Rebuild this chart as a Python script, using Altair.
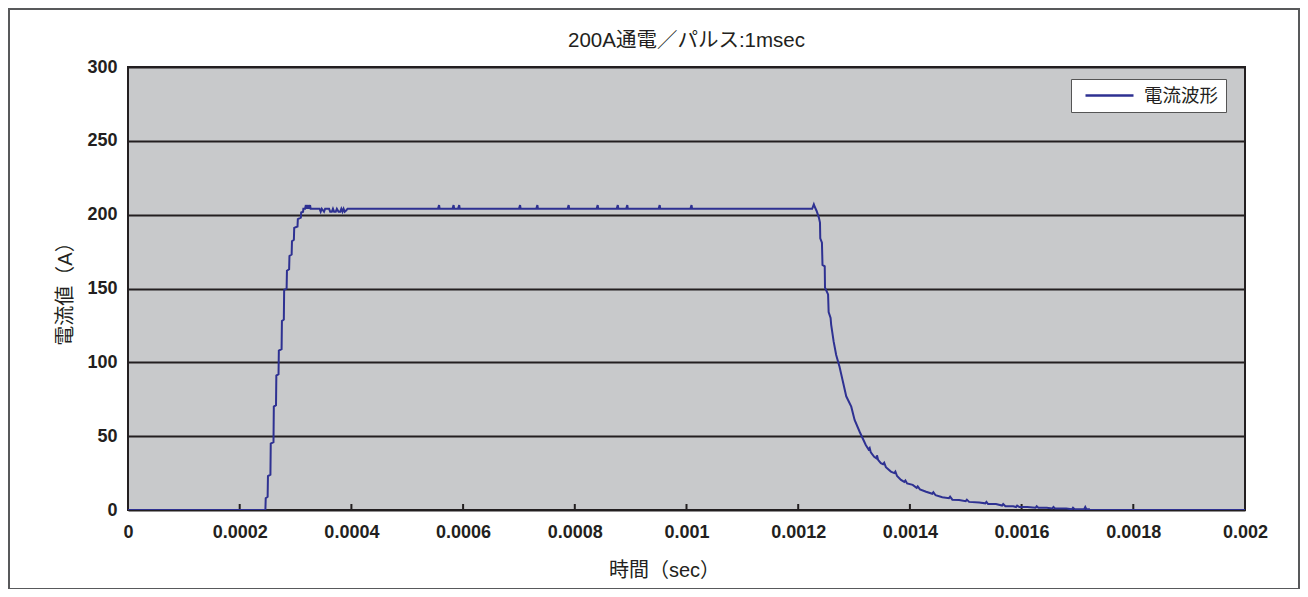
import altair as alt
import pandas as pd

TITLE = "200A通電／パルス:1msec"
SERIES = "電流波形"
X_TITLE = "時間（sec）"
Y_TITLE = "電流値（A）"

# time in microseconds, current in amperes
time_us = [
    0, 245, 246, 246.6, 250, 250.6, 255, 255.6, 260.5, 261.1, 265, 265.6,
    269.5, 270.1, 275, 275.6, 279, 279.6, 284, 284.6, 288.5, 289.1, 293, 293.6,
    297, 297.6, 303.5, 304.1, 309.5, 310.1, 313.5, 314,
    317, 318.5, 319.5, 321, 322, 323.5, 324.5, 326, 327, 343, 345, 347, 349,
    351, 353, 360, 362, 365, 367, 369, 372, 374, 377, 380, 382, 384, 386, 388,
    391, 393,
    394, 555, 557, 558, 581, 583, 584, 591, 593, 594, 700, 702, 703, 731, 733,
    734, 787, 789, 790, 839, 841, 842, 875, 877, 878, 892, 894, 895, 950, 952,
    953, 1007, 1009, 1010,
    1225, 1228, 1230, 1233, 1237, 1239, 1239.5, 1242.5, 1243.5, 1247.5, 1248,
    1253.5, 1254.5, 1258, 1259, 1263.5, 1268, 1274, 1280, 1286, 1295, 1301,
    1310, 1321, 1326, 1328, 1330, 1336, 1340, 1341, 1343, 1348, 1352, 1354,
    1357, 1366, 1372, 1374, 1377, 1384, 1390, 1392, 1395, 1405, 1412, 1414,
    1418, 1429, 1440, 1442, 1446, 1458, 1470, 1472, 1476, 1488, 1500, 1502,
    1506, 1524, 1535, 1537, 1540, 1554, 1565, 1567, 1571, 1585, 1590, 1592,
    1596, 1610, 1625, 1627, 1630, 1645, 1655, 1657, 1660, 1680, 1690, 1692,
    1695, 1712, 1714, 1716, 1721, 1722, 2000,
]
current_a = [
    0, 0, 0, 8, 9, 23, 24, 45, 46, 70, 71, 91,
    92, 108, 109, 128, 129, 149, 150, 162, 163, 172, 173, 182,
    183, 191, 192, 197, 198, 201.5, 202, 204,
    204, 206.5, 204, 206.5, 204, 206.5, 204, 206.5, 204, 204, 202, 204, 203,
    202, 204, 204, 202, 202, 204, 202, 202, 204, 202, 202, 204, 202, 204, 202,
    203, 204,
    204, 204, 206.5, 204, 204, 206.5, 204, 204, 206.5, 204, 204, 206.5, 204, 204, 206.5,
    204, 204, 206.5, 204, 204, 206.5, 204, 204, 206.5, 204, 204, 206.5, 204, 204, 206.5,
    204, 204, 206.5, 204,
    204, 207, 205, 202.5, 198, 194.6, 184, 181, 166, 165, 150.5,
    146, 134, 130, 125.6, 114, 105, 97, 87, 77, 70, 61,
    53, 44, 41, 42, 39, 36, 35, 37, 34, 31.7, 31, 32,
    29, 26, 25, 26, 23, 20.4, 19, 20, 18, 17, 15, 16,
    14, 12.4, 11, 12, 10, 8.6, 8, 9, 7, 6.8, 6, 7,
    5.5, 5, 4.5, 5.5, 4, 4, 3, 4, 2.5, 2.5, 2, 3,
    2, 2, 1.5, 2.5, 1.5, 1.5, 1, 2, 1, 1, 0.5, 1.5,
    0.5, 0.5, 2, 0.5, 0.5, 0, 0,
]

x_ticks = [0, 0.0002, 0.0004, 0.0006, 0.0008, 0.001, 0.0012, 0.0014, 0.0016, 0.0018, 0.002]
x_inner_ticks = [0.0002, 0.0004, 0.0006, 0.0008, 0.001, 0.0012, 0.0014, 0.0016, 0.0018]
y_ticks = [0, 50, 100, 150, 200, 250, 300]

FONT = "Liberation Sans, Noto Sans CJK JP, sans-serif"
INK = "#231f20"
LINE = "#2e3192"

df = pd.DataFrame({
    "t": [v / 1e6 for v in time_us],
    "a": current_a,
    "s": [SERIES] * len(time_us),
})
tick_df = pd.DataFrame({"t": x_inner_ticks})

x_scale = alt.Scale(domain=[0, 0.002], nice=False)
y_scale = alt.Scale(domain=[0, 300], nice=False)

x_axis = alt.Axis(
    values=x_ticks, labelExpr="format(datum.value, '~g')", ticks=False, tickSize=0,
    domain=False, grid=False, labelPadding=13, labelFlush=False, title=X_TITLE,
    titleX=536, titleY=60, titleBaseline="middle",
)
y_axis = alt.Axis(
    values=y_ticks, ticks=False, tickSize=0, domain=False, grid=True,
    gridColor=INK, gridWidth=2, gridOpacity=1, labelPadding=11, title=Y_TITLE,
    titleX=-63, titleY=221.5, titleBaseline="middle", titleAlign="center",
)

# outer frame around the whole figure (decoration)
frame = alt.Chart(pd.DataFrame({"k": [0]})).mark_rect(
    fill=None, fillOpacity=0, stroke="#58595b", strokeWidth=2, clip=False,
).encode(
    x=alt.value(-119), x2=alt.value(1171), y=alt.value(-58), y2=alt.value(522),
)

ticks = alt.Chart(tick_df).mark_rule(color=INK, strokeWidth=2).encode(
    x=alt.X("t:Q", scale=x_scale, axis=x_axis),
    y=alt.value(443),
    y2=alt.value(437),
)

line = alt.Chart(df).mark_line(strokeWidth=2, clip=True).encode(
    x=alt.X("t:Q", scale=x_scale, axis=x_axis),
    y=alt.Y("a:Q", scale=y_scale, axis=y_axis),
    color=alt.Color(
        "s:N",
        scale=alt.Scale(domain=[SERIES], range=[LINE]),
        legend=alt.Legend(
            title=None, orient="none", legendX=943, legendY=12,
            fillColor="white", strokeColor="#555555", padding=7,
            symbolType="stroke", symbolSize=2304, symbolStrokeWidth=2.5,
            symbolOffset=6, labelOffset=9, labelFontSize=18.5, labelFont=FONT,
            labelColor=INK, clipHeight=19,
        ),
    ),
    order=alt.Order("t:Q"),
)

chart = alt.layer(frame, ticks, line).properties(
    width=1117,
    height=443,
    autosize=alt.AutoSizeParams(type="none"),
    padding={"left": 120, "top": 59, "right": 55, "bottom": 79},
    background="white",
    title=alt.TitleParams(
        TITLE, font=FONT, fontSize=20.5, fontWeight="normal", color=INK,
        anchor="middle", offset=7, dy=50,
    ),
).configure_view(
    fill="#c8c9cb", stroke=INK, strokeWidth=2,
).configure_axis(
    labelFont=FONT, labelFontSize=18, labelFontWeight="bold", labelColor=INK,
    titleFont=FONT, titleFontSize=20, titleFontWeight="normal", titleColor=INK,
)

chart.save("out.html", embed_options={"renderer": "svg", "actions": False})
